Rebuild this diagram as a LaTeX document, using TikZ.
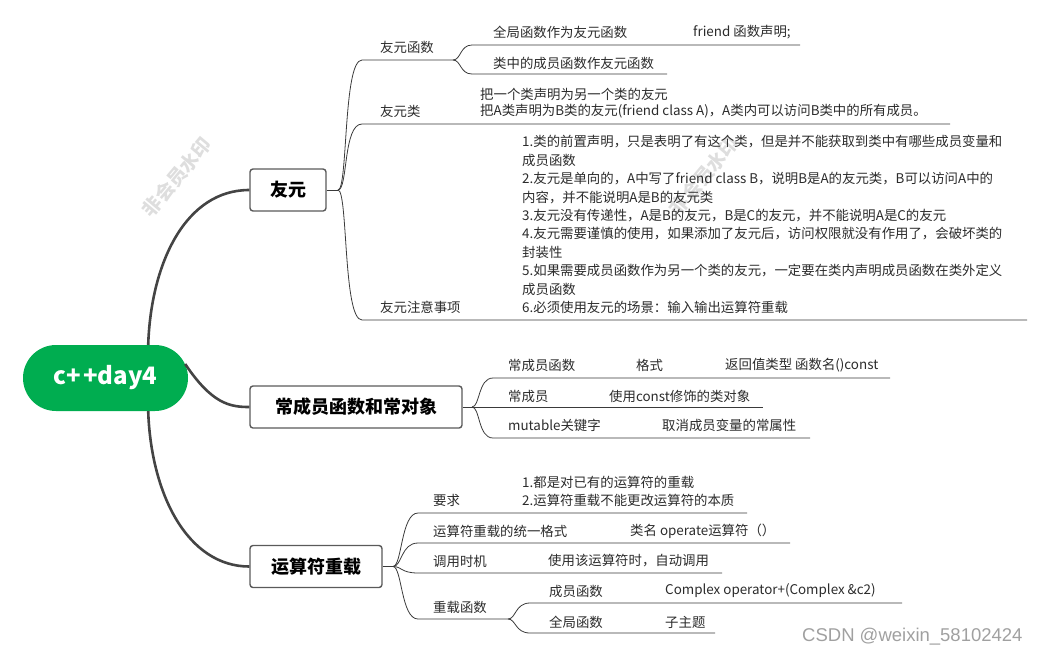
\documentclass[tikz,border=0pt]{standalone}
\usepackage{fontspec}
\setmainfont{Noto Sans CJK SC}
\newfontfamily\wmfont{Liberation Sans}
\usetikzlibrary{calc}
\definecolor{rootgreen}{HTML}{00AD50}
\definecolor{linec}{HTML}{444444}
\definecolor{thinc}{HTML}{3A3A3A}
\definecolor{boxc}{HTML}{5A5A5A}
\definecolor{txtc}{HTML}{2B2B2B}
\definecolor{wmc}{HTML}{DEDEDE}
\definecolor{csdnc}{HTML}{A0A0A0}
\tikzset{
  rootline/.style={draw=linec, line width=2.6pt},
  thin/.style={draw=thinc, line width=0.8pt},
  topic/.style={draw=boxc, line width=1.4pt, rounded corners=3pt, fill=white,
    font=\fontsize{18}{20}\selectfont\bfseries, text=black, minimum height=42pt, inner sep=0pt},
  lbl/.style={anchor=west, inner sep=0pt, font=\fontsize{13.4}{15}\selectfont, text=txtc},
  wm/.style={text=wmc, font=\fontsize{19}{21}\selectfont\bfseries, rotate=50, inner sep=0pt}
}
\begin{document}
\begin{tikzpicture}[x=1pt,y=-1pt]
\useasboundingbox (0,0) rectangle (1047,657);
% watermarks
\node[wm] (wm1) at (177,177) {非会员水印};
\node[wm] (wm2) at (704,176) {非会员水印};

% root
\node[fill=rootgreen, rounded corners=33pt, minimum width=165pt, minimum height=66pt, inner sep=0pt,
  text=white, font=\fontsize{24}{26}\selectfont\bfseries] (root) at (105.5,378) {c+\kern2pt+day4};

% topics
\node[topic, minimum width=76pt] (yy) at (288,190) {友元};
\node[topic, minimum width=212pt] (cc) at (356,407) {常成员函数和常对象};
\node[topic, minimum width=132pt] (ys) at (316,566.5) {运算符重载};

\draw[rootline] ([xshift=-40pt]root.north east) .. controls (151,262) and (186,190) .. (yy.west);
\draw[rootline] ([xshift=-3pt,yshift=14pt]root.east) .. controls (212,404) and (230,407) .. (cc.west);
\draw[rootline] ([xshift=-40pt]root.south east) .. controls (151,495) and (188,566.5) .. (ys.west);

% ---------- 友元 branch ----------
\coordinate (j1) at (338,190);
\draw[thin] (yy.east) -- (j1);
\coordinate (a1) at (362,60);  \coordinate (a1e) at (453,60);
\coordinate (a2) at (362,124); \coordinate (a2e) at (950,124);
\coordinate (a3) at (362,320); \coordinate (a3e) at (1027,320);
\draw[thin] (j1) .. controls (348,190) and (343,60) .. (a1) -- (a1e);
\draw[thin] (j1) .. controls (348,190) and (343,124) .. (a2) -- (a2e);
\draw[thin] (j1) .. controls (348,190) and (343,320) .. (a3) -- (a3e);

\node[lbl] (t1) at (380,47) {友元函数};
\coordinate (b1) at (472,45);  \coordinate (b1e) at (800,45);
\coordinate (b2) at (472,74);  \coordinate (b2e) at (667,74);
\draw[thin] (a1e) .. controls (461,60) and (460,45) .. (b1) -- (b1e);
\draw[thin] (a1e) .. controls (461,60) and (460,74) .. (b2) -- (b2e);
\node[lbl] (t11) at (493,32) {全局函数作为友元函数};
\node[lbl] (t111) at (693,32) {friend 函数声明;};
\node[lbl] (t12) at (493,63) {类中的成员函数作友元函数};

\node[lbl] (t2) at (380,111) {友元类};
\node[lbl] (t21) at (480,94) {把一个类声明为另一个类的友元};
\node[lbl] (t22) at (480,111) {把A类声明为B类的友元(friend class A)，A类内可以访问B类中的所有成员。};

\node[lbl] (t3) at (380,307.5) {友元注意事项};
\node[lbl] (n1) at (522,142) {1.类的前置声明，只是表明了有这个类，但是并不能获取到类中有哪些成员变量和};
\node[lbl] (n2) at (522,160.4) {成员函数};
\node[lbl] (n3) at (522,178.8) {2.友元是单向的，A中写了friend class B，说明B是A的友元类，B可以访问A中的};
\node[lbl] (n4) at (522,197.2) {内容，并不能说明A是B的友元类};
\node[lbl] (n5) at (522,215.6) {3.友元没有传递性，A是B的友元，B是C的友元，并不能说明A是C的友元};
\node[lbl] (n6) at (522,234) {4.友元需要谨慎的使用，如果添加了友元后，访问权限就没有作用了，会破坏类的};
\node[lbl] (n7) at (522,252.4) {封装性};
\node[lbl] (n8) at (522,270.8) {5.如果需要成员函数作为另一个类的友元，一定要在类内声明成员函数在类外定义};
\node[lbl] (n9) at (522,289.2) {成员函数};
\node[lbl] (n10) at (522,307.6) {6.必须使用友元的场景：输入输出运算符重载};

% ---------- 常成员 branch ----------
\coordinate (j2) at (472,407);
\coordinate (c1) at (493,378); \coordinate (c1e) at (890,378);
\coordinate (c2e) at (763,407);
\coordinate (c3) at (493,438); \coordinate (c3e) at (810,438);
\draw[thin] (cc.east) -- (c2e);
\draw[thin] (j2) .. controls (480,407) and (478,378) .. (c1) -- (c1e);
\draw[thin] (j2) .. controls (480,407) and (478,438) .. (c3) -- (c3e);
\node[lbl] (s1) at (508,365) {常成员函数};
\node[lbl] (s11) at (636,365) {格式};
\node[lbl] (s111) at (725,365) {返回值类型 函数名()const};
\node[lbl] (s2) at (508,396) {常成员};
\node[lbl] (s21) at (609,396) {使用const修饰的类对象};
\node[lbl] (s3) at (508,425) {mutable关键字};
\node[lbl] (s31) at (662,425) {取消成员变量的常属性};

% ---------- 运算符重载 branch ----------
\coordinate (j3) at (393,566.5);
\draw[thin] (ys.east) -- (j3);
\coordinate (d1) at (418,513); \coordinate (d1e) at (747,513);
\coordinate (d2) at (418,543); \coordinate (d2e) at (790,543);
\coordinate (d3) at (418,573); \coordinate (d3e) at (722,573);
\coordinate (d4) at (418,619); \coordinate (d4e) at (508,619);
\draw[thin] (j3) .. controls (402,566.5) and (401,513) .. (d1) -- (d1e);
\draw[thin] (j3) .. controls (402,566.5) and (401,543) .. (d2) -- (d2e);
\draw[thin] (j3) .. controls (402,566.5) and (401,573) .. (d3) -- (d3e);
\draw[thin] (j3) .. controls (402,566.5) and (401,619) .. (d4) -- (d4e);
\node[lbl] (r1) at (433,500) {要求};
\node[lbl] (r11) at (522,482) {1.都是对已有的运算符的重载};
\node[lbl] (r12) at (522,500) {2.运算符重载不能更改运算符的本质};
\node[lbl] (r2) at (433,531) {运算符重载的统一格式};
\node[lbl] (r21) at (630,531) {类名 operate运算符（）};
\node[lbl] (r3) at (433,561) {调用时机};
\node[lbl] (r31) at (548,561) {使用该运算符时，自动调用};
\node[lbl] (r4) at (433,607) {重载函数};
\coordinate (e1) at (530,603); \coordinate (e1e) at (902,603);
\coordinate (e2) at (530,633); \coordinate (e2e) at (715,633);
\draw[thin] (d4e) .. controls (516,619) and (515,603) .. (e1) -- (e1e);
\draw[thin] (d4e) .. controls (516,619) and (515,633) .. (e2) -- (e2e);
\node[lbl] (r41) at (549,591) {成员函数};
\node[lbl] (r411) at (665,591) {Complex operator+(Complex \&c2)};
\node[lbl] (r42) at (549,622) {全局函数};
\node[lbl] (r421) at (665,622) {子主题};

% CSDN mark
\node[anchor=west, inner sep=0pt, text=csdnc, font=\wmfont\fontsize{18.5}{20}\selectfont] (csdn) at (802,637) {CSDN @weixin\_58102424};
\end{tikzpicture}
\end{document}
